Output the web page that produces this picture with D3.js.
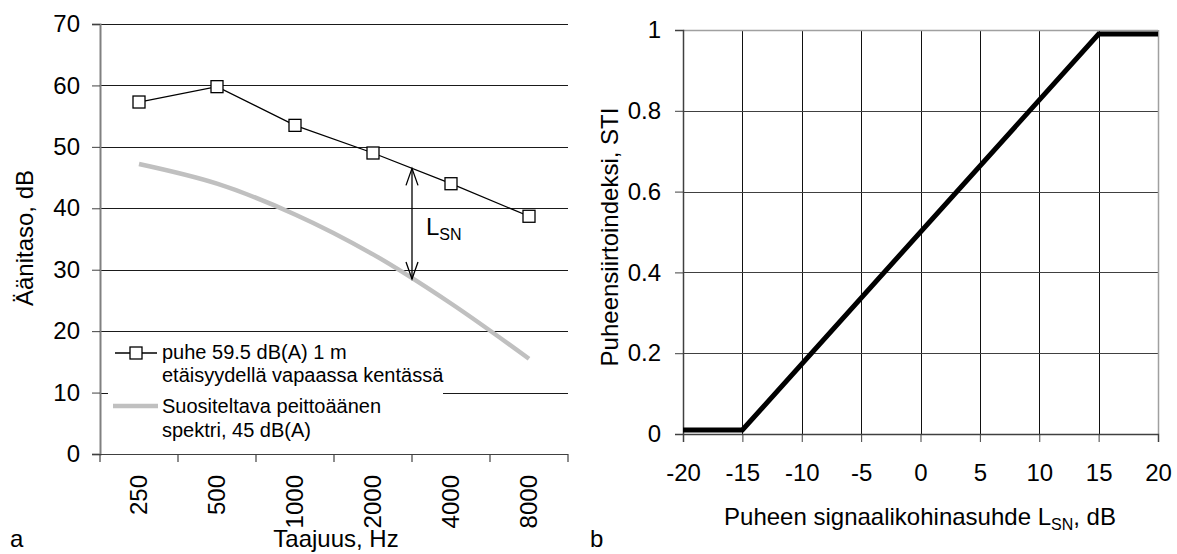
<!DOCTYPE html>
<html><head><meta charset="utf-8">
<script src="https://cdn.jsdelivr.net/npm/d3@7"></script>
<style>
body{margin:0;background:#fff}
text{font-family:"Liberation Sans", Arial, sans-serif; fill:#000}
</style>
</head><body><svg id="c" width="1177" height="554"></svg>
<script>
// ---------- data ----------
const frequencies = ["250","500","1000","2000","4000","8000"];
const speechLevels = [57.3, 59.8, 53.5, 49.0, 44.0, 38.7];
const maskingLevels = [47.2, 44.0, 39.0, 32.5, 24.5, 15.5];
const leftYTicks = [0,10,20,30,40,50,60,70];
const legendLabels = [["puhe 59.5 dB(A) 1 m","etäisyydellä vapaassa kentässä"],["Suositeltava peittoäänen","spektri, 45 dB(A)"]];
const snrValues = [-20,-15,15,20];
const stiValues = [0.01,0.01,0.99,0.99];
const snrTicks = [-20,-15,-10,-5,0,5,10,15,20];
const stiTicks = [0,0.2,0.4,0.6,0.8,1];

const svg = d3.select("#c");

// ================= LEFT CHART (a) =================
const xL = d3.scaleBand().domain(frequencies).range([100,568]);
const yL = d3.scaleLinear().domain([0,70]).range([454,24]);
const gL = svg.append("g");

// gridlines
gL.selectAll("line.grid").data(leftYTicks.filter(d=>d>0)).join("line")
  .attr("x1",100).attr("x2",568)
  .attr("y1",d=>Math.round(yL(d))+0.5).attr("y2",d=>Math.round(yL(d))+0.5)
  .attr("stroke","#1a1a1a").attr("stroke-width",1);

// y axis
const yAxisL = gL.append("g").attr("transform","translate(100,0)")
  .call(d3.axisLeft(yL).tickValues(leftYTicks).tickSize(8).tickPadding(12));
yAxisL.select(".domain").attr("stroke","#808080").attr("stroke-width",2);
yAxisL.selectAll(".tick line").attr("stroke","#404040");
yAxisL.selectAll("text").attr("font-size",24).attr("font-family","Liberation Sans, Arial, sans-serif");

// x axis line + boundary ticks
gL.append("line").attr("x1",100).attr("x2",568).attr("y1",454.5).attr("y2",454.5).attr("stroke","#404040").attr("stroke-width",1.2);
const bounds = frequencies.map(f=>xL(f)).concat([xL.range()[1]]);
gL.selectAll("line.xt").data(bounds).join("line")
  .attr("x1",d=>d).attr("x2",d=>d).attr("y1",454).attr("y2",462)
  .attr("stroke","#404040").attr("stroke-width",1.2);
gL.selectAll("text.xl").data(frequencies).join("text")
  .attr("transform",d=>`translate(${xL(d)+xL.bandwidth()/2},475) rotate(-90)`)
  .attr("text-anchor","end").attr("dy","0.35em").attr("font-size",24).text(d=>d);

// masking (gray) line
const cx = d => xL(d)+xL.bandwidth()/2;
gL.append("path").datum(frequencies.map((f,i)=>[cx(f), yL(maskingLevels[i])]))
  .attr("d", d3.line().curve(d3.curveCatmullRom.alpha(0.5)))
  .attr("fill","none").attr("stroke","#c0c0c0").attr("stroke-width",4.5);

// speech line
gL.append("path").datum(frequencies.map((f,i)=>[cx(f), yL(speechLevels[i])]))
  .attr("d", d3.line()).attr("fill","none").attr("stroke","#000").attr("stroke-width",1.3);
gL.selectAll("rect.m").data(frequencies).join("rect")
  .attr("x",(d)=>cx(d)-6).attr("y",(d,i)=>yL(speechLevels[i])-6)
  .attr("width",12).attr("height",12).attr("fill","#fff").attr("stroke","#000").attr("stroke-width",1.3);

// L_SN arrow between 2000 and 4000
const ax = (cx("2000")+cx("4000"))/2;
const ayTop = yL((speechLevels[3]+speechLevels[4])/2);
const ayBot = yL((maskingLevels[3]+maskingLevels[4])/2);
const ga = gL.append("g").attr("stroke","#000").attr("stroke-width",1.3).attr("fill","none");
ga.append("line").attr("x1",ax).attr("x2",ax).attr("y1",ayTop).attr("y2",ayBot);
ga.append("path").attr("d",`M${ax-6},${ayTop+17}L${ax},${ayTop}L${ax+6},${ayTop+17}`);
ga.append("path").attr("d",`M${ax-6},${ayBot-17}L${ax},${ayBot}L${ax+6},${ayBot-17}`);
const lsn = gL.append("text").attr("x",ax+14).attr("y",(ayTop+ayBot)/2+11).attr("font-size",24);
lsn.append("tspan").text("L");
lsn.append("tspan").attr("font-size",16).attr("dy",5).text("SN");

// legend
gL.append("rect").attr("x",108).attr("y",336).attr("width",335).attr("height",112).attr("fill","#fff");
gL.append("line").attr("x1",115).attr("x2",157).attr("y1",353).attr("y2",353).attr("stroke","#000").attr("stroke-width",1.3);
gL.append("rect").attr("x",130).attr("y",347).attr("width",12).attr("height",12).attr("fill","#fff").attr("stroke","#000").attr("stroke-width",1.3);
gL.append("line").attr("x1",113).attr("x2",158).attr("y1",406).attr("y2",406).attr("stroke","#c0c0c0").attr("stroke-width",4.5);
const legY = [[359,382],[413,437]];
legendLabels.forEach((lines,i)=>{
  lines.forEach((t,j)=>{
    gL.append("text").attr("x",162).attr("y",legY[i][j]).attr("font-size",20).text(t);
  });
});

// titles
gL.append("text").attr("transform","translate(33,238) rotate(-90)").attr("text-anchor","middle").attr("font-size",24).text("Äänitaso, dB");
gL.append("text").attr("x",336).attr("y",547).attr("text-anchor","middle").attr("font-size",24).text("Taajuus, Hz");
svg.append("text").attr("x",10).attr("y",547).attr("font-size",24).text("a");

// ================= RIGHT CHART (b) =================
const xR = d3.scaleLinear().domain([-20,20]).range([683,1158]);
const yR = d3.scaleLinear().domain([0,1]).range([434,30]);
const gR = svg.append("g");

gR.selectAll("line.vg").data(snrTicks.filter(d=>d>-20&&d<20)).join("line")
  .attr("x1",d=>Math.round(xR(d))+0.5).attr("x2",d=>Math.round(xR(d))+0.5)
  .attr("y1",30).attr("y2",434).attr("stroke","#111").attr("stroke-width",1);
gR.selectAll("line.hg").data(stiTicks.filter(d=>d>0&&d<1)).join("line")
  .attr("x1",683).attr("x2",1158)
  .attr("y1",d=>Math.round(yR(d))+0.5).attr("y2",d=>Math.round(yR(d))+0.5)
  .attr("stroke","#404040").attr("stroke-width",1);
// top & right borders
gR.append("line").attr("x1",683).attr("x2",1158).attr("y1",30.5).attr("y2",30.5).attr("stroke","#a0a0a0").attr("stroke-width",1.5);
gR.append("line").attr("x1",1158.5).attr("x2",1158.5).attr("y1",30).attr("y2",434).attr("stroke","#a0a0a0").attr("stroke-width",1.5);

const yAxisR = gR.append("g").attr("transform","translate(683,0)")
  .call(d3.axisLeft(yR).tickValues(stiTicks).tickFormat(d3.format("~g")).tickSize(8).tickPadding(14));
yAxisR.select(".domain").attr("stroke","#404040").attr("stroke-width",1.5);
yAxisR.selectAll(".tick line").attr("stroke","#404040");
yAxisR.selectAll("text").attr("font-size",24).attr("font-family","Liberation Sans, Arial, sans-serif");

const xAxisR = gR.append("g").attr("transform","translate(0,434)")
  .call(d3.axisBottom(xR).tickValues(snrTicks).tickFormat(d3.format("d")).tickSize(8).tickPadding(22));
xAxisR.select(".domain").attr("stroke","#404040").attr("stroke-width",1.5);
xAxisR.selectAll(".tick line").attr("stroke","#404040");
xAxisR.selectAll("text").attr("font-size",24).attr("font-family","Liberation Sans, Arial, sans-serif");
xAxisR.selectAll("text").text(d=>d<0?"-"+Math.abs(d):String(d));

// STI line
gR.append("path").datum(snrValues.map((s,i)=>[xR(s), yR(stiValues[i])]))
  .attr("d", d3.line()).attr("fill","none").attr("stroke","#000").attr("stroke-width",5);

// titles
gR.append("text").attr("transform","translate(618,237) rotate(-90)").attr("text-anchor","middle").attr("font-size",24).text("Puheensiirtoindeksi, STI");
const xt = gR.append("text").attr("x",920).attr("y",525).attr("text-anchor","middle").attr("font-size",24);
xt.append("tspan").text("Puheen signaalikohinasuhde L");
xt.append("tspan").attr("font-size",16).attr("dy",5).text("SN");
xt.append("tspan").attr("dy",-5).text(", dB");
svg.append("text").attr("x",590).attr("y",547).attr("font-size",24).text("b");
</script>
</body></html>
